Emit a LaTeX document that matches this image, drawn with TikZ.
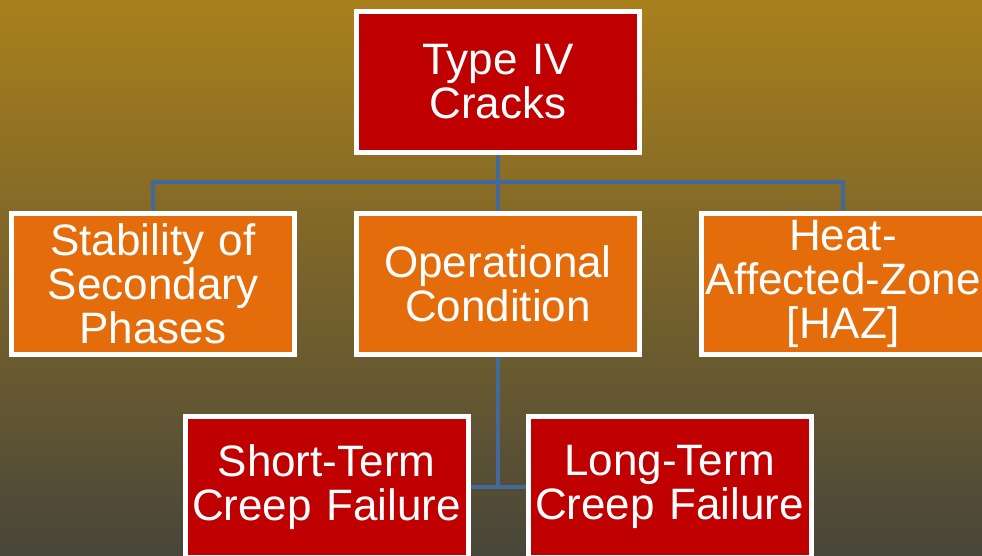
\documentclass[tikz,border=0pt]{standalone}
\usepackage{fontspec}
\setmainfont{Liberation Sans}
\usetikzlibrary{positioning,backgrounds}
\definecolor{boxred}{RGB}{192,0,0}
\definecolor{boxorange}{RGB}{228,108,10}
\definecolor{linkblue}{RGB}{65,105,155}
\definecolor{bgtop}{RGB}{169,128,28}
\definecolor{bgbottom}{RGB}{72,70,58}

\begin{document}
\begin{tikzpicture}[x=1pt,y=1pt,
	box/.style={draw=white, line width=5pt, text=white, inner sep=0pt,
		minimum width=283pt, minimum height=141pt, text width=283pt, align=center,
		font=\fontsize{44}{44}\selectfont},
	redbox/.style={box, fill=boxred},
	orangebox/.style={box, fill=boxorange},
	link/.style={draw=linkblue, line width=4pt}]
	\clip (0,0) rectangle (982,-556);
	\useasboundingbox (0,0) rectangle (982,-556);
	% boxes
	\node[redbox] (type) at (498,-82) {Type IV\\Cracks};
	\node[orangebox] (oper) at (498,-284) {Operational\\Condition};
	\node[orangebox] (stab) at (153,-284) {Stability of\\Secondary\\Phases};
	\node[orangebox] (haz) at (843,-284) {Heat-\\Affected-Zone\\{[HAZ]}};
	\node[redbox] (short) at (326.5,-487) {Short-Term\\Creep Failure};
	\node[redbox, right=55pt of short] (long) {Long-Term\\Creep Failure};
	\coordinate (bus) at (498,-182);
	\begin{scope}[on background layer]
		\fill[top color=bgtop, bottom color=bgbottom] (0,0) rectangle (982,-556);
		% connectors
		\draw[link] (type.south) -- (bus);
		\draw[link] (stab.north) |- (bus) -| (haz.north);
		\draw[link] (bus) -- (oper.north);
		\draw[link] (oper.south) |- (short.east);
		\draw[link] (oper.south |- short.east) -- (long.west);
	\end{scope}
\end{tikzpicture}
\end{document}
